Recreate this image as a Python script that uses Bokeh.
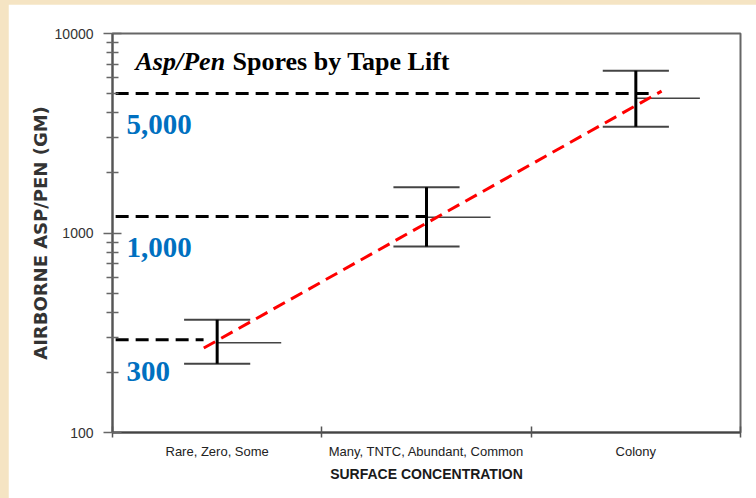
from bokeh.plotting import figure
from bokeh.models import Range1d, FixedTicker, NumeralTickFormatter, Label
from bokeh.core.properties import value
from bokeh.embed import file_html
from bokeh.resources import INLINE

# ---- data ----
categories = ["Rare, Zero, Some", "Many, TNTC, Abundant, Common", "Colony"]
upper = [367, 1697, 6500]
median = [282, 1200, 4740]
lower = [221, 855, 3410]

ref_levels = [292, 1210, 5000]
ref_labels = ["300", "1,000", "5,000"]
ref_ends = [0.435, 1.505, 2.58]

trend_x = [0.436, 2.623]
trend_y = [265, 5140]

y_major = [100, 1000, 10000]
y_minor = [200, 300, 400, 500, 600, 700, 800, 900,
           2000, 3000, 4000, 5000, 6000, 7000, 8000, 9000]

centers = [i + 0.5 for i in range(len(categories))]

SANS = "Liberation Sans"

p = figure(width=748, height=494, output_backend="svg", toolbar_location=None,
           y_axis_type="log", x_range=Range1d(0, 3), y_range=Range1d(100, 10000),
           min_border_left=104, min_border_right=16, min_border_top=29, min_border_bottom=66)
p.background_fill_color = "white"
p.border_fill_color = "white"
p.outline_line_color = "#666666"
p.outline_line_width = 2
p.xgrid.visible = False
p.ygrid.visible = False

# x axis
xa = p.xaxis[0]
xa.ticker = FixedTicker(ticks=centers, minor_ticks=[0, 1, 2, 3])
xa.major_label_overrides = {c: lab for c, lab in zip(centers, categories)}
xa.major_tick_in = 0
xa.major_tick_out = 0
xa.minor_tick_in = 6
xa.minor_tick_out = 5
xa.minor_tick_line_color = "#555555"
xa.minor_tick_line_width = 1.5
xa.axis_line_color = "#444444"
xa.axis_line_width = 2
xa.major_label_text_font = SANS
xa.major_label_text_font_size = "13px"
xa.major_label_text_color = "#222222"
xa.major_label_standoff = 6
xa.axis_label = "SURFACE CONCENTRATION"
xa.axis_label_text_font = SANS
xa.axis_label_text_font_style = "bold"
xa.axis_label_text_font_size = "14px"
xa.axis_label_text_color = "#1a1a1a"
xa.axis_label_standoff = 4

# y axis
ya = p.yaxis[0]
ya.ticker = FixedTicker(ticks=y_major, minor_ticks=y_minor)
ya.formatter = NumeralTickFormatter(format="0")
ya.major_tick_in = 9
ya.major_tick_out = 9
ya.minor_tick_in = 6
ya.minor_tick_out = 6
ya.major_tick_line_color = "#666666"
ya.minor_tick_line_color = "#666666"
ya.major_tick_line_width = 1.5
ya.minor_tick_line_width = 1.5
ya.axis_line_color = "#555555"
ya.axis_line_width = 2
ya.major_label_text_font = SANS
ya.major_label_text_font_size = "14px"
ya.major_label_text_color = "#333333"
ya.major_label_standoff = 10
ya.axis_label = "AIRBORNE ASP/PEN (GM)"
ya.axis_label_text_font = "DejaVu Sans"
ya.axis_label_text_font_style = "bold"
ya.axis_label_text_font_size = "18px"
ya.axis_label_text_color = "#333333"
ya.axis_label_standoff = 1

# reference (black dashed) lines
p.segment(x0=[0.015] * len(ref_levels), y0=ref_levels, x1=ref_ends, y1=ref_levels,
          line_color="black", line_width=3, line_dash="13 7")

# error bars
cap_half = 0.158
med_len = 0.306
p.segment(x0=[c - cap_half for c in centers], y0=upper,
          x1=[c + cap_half for c in centers], y1=upper,
          line_color="#444444", line_width=2)
p.segment(x0=[c - cap_half for c in centers], y0=lower,
          x1=[c + cap_half for c in centers], y1=lower,
          line_color="#444444", line_width=2)
p.segment(x0=centers, y0=median, x1=[c + med_len for c in centers], y1=median,
          line_color="#444444", line_width=1.5)
p.segment(x0=centers, y0=lower, x1=centers, y1=upper,
          line_color="black", line_width=3)

# trend line
p.line(trend_x, trend_y, line_color="red", line_width=3, line_dash="13 7")

# blue labels for the reference lines
label_y = [202, 846, 3500]
p.text(x=[0.067] * len(ref_labels), y=label_y, text=ref_labels,
       text_font=value("Liberation Serif"), text_font_style="bold",
       text_font_size="29px", text_color="#0070C0",
       text_align="left", text_baseline="alphabetic")

# title inside the plot
t1 = Label(x=0.11, y=7240, text="Asp/Pen", text_font="Liberation Serif",
           text_font_style="bold italic", text_font_size="26px", text_color="black",
           text_baseline="alphabetic", text_align="left")
t2 = Label(x=0.11, y=7240, x_offset=97, text="Spores by Tape Lift",
           text_font="Liberation Serif", text_font_style="bold",
           text_font_size="26px", text_color="black",
           text_baseline="alphabetic", text_align="left")
p.add_layout(t1)
p.add_layout(t2)

html = file_html(p, INLINE)
html = html.replace(
    "</head>",
    "<style>html{background:#F5E4C3 !important;}"
    "body{margin:0 !important;padding:4px 0 0 8px !important;"
    "box-sizing:border-box !important;background:transparent !important;}</style></head>", 1)
open("out.html", "w").write(html)
